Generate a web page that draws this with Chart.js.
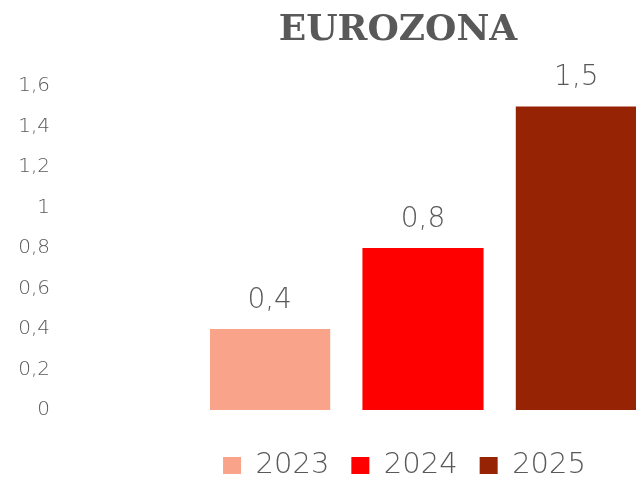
<!DOCTYPE html>
<html>
<head>
<meta charset="utf-8">
<script src="https://cdn.jsdelivr.net/npm/chart.js@4/dist/chart.umd.min.js"></script>
<style>
  html, body { margin: 0; padding: 0; background: #fff; }
  canvas { display: block; }
</style>
</head>
<body>
<canvas id="chart" width="636" height="482"></canvas>
<script>
const categories = ["EUROZONA"];
const years = ["2023", "2024", "2025"];
const values = [0.4, 0.8, 1.5];
const barColors = ["#F9A38A", "#FF0000", "#952304"];
const yMin = 0;
const yMax = 1.6;
const yStep = 0.2;

const textColor = "#595959";
const lightFont = "'DejaVu Sans', sans-serif";

function fmt(v)
{
    return String(Math.round(v * 10) / 10).replace(".", ",");
}

// value labels above the bars
const valueLabels = {
    id: "valueLabels",
    afterDatasetsDraw(chart)
    {
        const ctx = chart.ctx;
        ctx.save();
        ctx.font = "200 28px " + lightFont;
        ctx.fillStyle = textColor;
        ctx.textAlign = "center";
        ctx.textBaseline = "alphabetic";
        chart.data.datasets.forEach((ds, i) => {
            const meta = chart.getDatasetMeta(i);
            meta.data.forEach((bar, j) => {
                ctx.fillText(fmt(ds.data[j]), bar.x, bar.y - 21);
            });
        });
        ctx.restore();
    }
};

// title and legend are centred on the right-hand part of the picture
const shiftBlocks = {
    id: "shiftBlocks",
    afterLayout(chart)
    {
        chart.titleBlock.left = 160;
        chart.titleBlock.right = 636;
        chart.legend.left = 173;
        chart.legend.right = 636;
        chart.legend.top += 19;
        chart.legend.bottom += 19;
    }
};

function generateBarChart(elem)
{
    try
    {
        const dataChart = {
            labels: categories,
            datasets: years.map((y, i) => ({
                label: y,
                data: [values[i]],
                backgroundColor: barColors[i],
                borderWidth: 0
            }))
        };

        const config = {
            type: "bar",
            data: dataChart,
            plugins: [valueLabels, shiftBlocks],
            options: {
                responsive: false,
                animation: false,
                devicePixelRatio: 1,
                layout: { padding: { bottom: 11 } },
                datasets: {
                    bar: { categoryPercentage: 1.08, barPercentage: 0.79 }
                },
                scales: {
                    x: { display: false },
                    y: {
                        min: yMin,
                        max: yMax,
                        grid: { display: false },
                        border: { display: false },
                        afterFit(scale)
                        {
                            scale.width = 210;
                            scale.paddingTop = 11;
                            scale.paddingBottom = 11;
                        },
                        ticks: {
                            stepSize: yStep,
                            padding: 152,
                            color: textColor,
                            font: { family: lightFont, size: 20, weight: 200 },
                            callback: (v) => fmt(v)
                        }
                    }
                },
                plugins: {
                    title: {
                        display: true,
                        text: "EUROZONA",
                        color: textColor,
                        font: { family: "'DejaVu Serif', serif", size: 36, weight: "bold" },
                        padding: { top: 9, bottom: 34 }
                    },
                    legend: {
                        position: "bottom",
                        labels: {
                            boxWidth: 18,
                            boxHeight: 17,
                            padding: 22,
                            color: textColor,
                            font: { family: lightFont, size: 29, weight: 200 }
                        }
                    },
                    tooltip: { enabled: false }
                }
            }
        };

        const myChart = new Chart(elem, config);
        myChart.update();
        return true;
    }
    catch (e)
    {
        console.error(e.message);
    }
    return false;
}

generateBarChart(document.getElementById("chart"));
</script>
</body>
</html>
